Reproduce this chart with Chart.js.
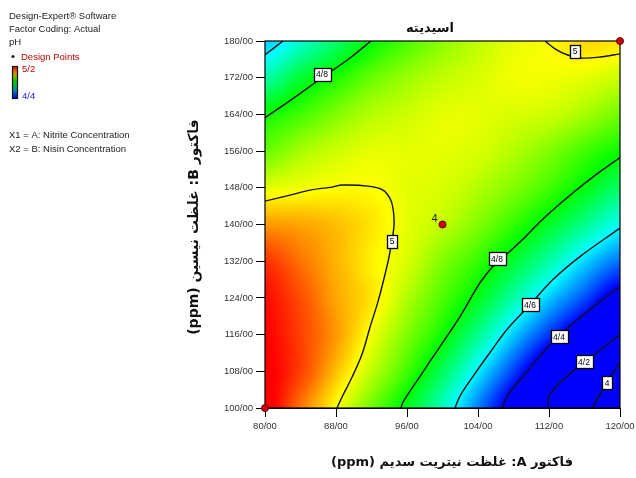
<!DOCTYPE html>
<html>
<head>
<meta charset="utf-8">
<script src="https://cdn.jsdelivr.net/npm/chart.js@4.4.0/dist/chart.umd.min.js"></script>
<style>
  html, body { margin: 0; padding: 0; background: #fff; overflow: hidden; }
  canvas { display: block; }
</style>
</head>
<body>
<canvas id="c" width="636" height="478"></canvas>
<script>
// Factor levels of the response grid: A = sodium nitrite (ppm), B = nisin (ppm)
const nitriteLevels = [80, 84, 88, 92, 96, 100, 104, 108, 112, 116, 120];
const nisinLevels = [100, 108, 116, 124, 132, 140, 148, 156, 164, 172, 180];

// Predicted pH, one row per nisin level, columns follow nitriteLevels
const ph100 = [5.22, 5.11, 5.00, 4.89, 4.78, 4.65, 4.50, 4.35, 4.20, 4.03, 3.87];
const ph108 = [5.21, 5.15, 5.05, 4.95, 4.85, 4.73, 4.59, 4.45, 4.30, 4.14, 3.97];
const ph116 = [5.20, 5.15, 5.08, 4.99, 4.90, 4.81, 4.69, 4.56, 4.44, 4.32, 4.20];
const ph124 = [5.19, 5.14, 5.07, 5.02, 4.94, 4.86, 4.78, 4.67, 4.56, 4.46, 4.35];
const ph132 = [5.16, 5.11, 5.06, 5.01, 4.97, 4.90, 4.84, 4.76, 4.67, 4.57, 4.49];
const ph140 = [5.08, 5.07, 5.05, 5.02, 4.98, 4.95, 4.90, 4.84, 4.77, 4.69, 4.61];
const ph148 = [4.98, 4.99, 5.00, 5.00, 4.98, 4.97, 4.94, 4.90, 4.85, 4.79, 4.72];
const ph156 = [4.88, 4.93, 4.96, 4.98, 4.98, 4.98, 4.97, 4.94, 4.90, 4.85, 4.81];
const ph164 = [4.81, 4.85, 4.90, 4.94, 4.96, 4.98, 4.98, 4.97, 4.96, 4.93, 4.89];
const ph172 = [4.67, 4.76, 4.82, 4.88, 4.92, 4.95, 4.97, 4.99, 4.99, 4.98, 4.96];
const ph180 = [4.56, 4.64, 4.72, 4.80, 4.86, 4.91, 4.95, 4.98, 5.00, 5.03, 5.02];
const phRows = [ph100, ph108, ph116, ph124, ph132, ph140, ph148, ph156, ph164, ph172, ph180];

// Colour scale range shown in the legend
const phScaleMin = 4.4;
const phScaleMax = 5.2;

// Contour lines: level and path as [A, B] pairs
const contourLevels = [4.6, 4.8, 5, 5, 4.8, 4.6, 4.4, 4.2, 4];
const contour46a = [[80, 177.0], [82.03, 180]];
const contour48a = [[80, 163.3], [82.82, 167.0], [86.42, 172.0], [89.58, 176.3], [91.94, 180]];
const contour50a = [[80, 145.1], [82.82, 146.4], [85.07, 147.5], [87.32, 148.1], [88.79, 148.6], [91.83, 148.3],
  [93.30, 147.5], [94.08, 145.7], [94.42, 143.6], [94.54, 139.9], [94.08, 134.0], [93.52, 129.1], [92.73, 123.2],
  [91.83, 117.6], [90.93, 111.7], [89.80, 106.7], [88.68, 102.4], [88.11, 100]];
const contour50b = [[111.55, 180], [112.68, 178.3], [114.03, 177.0], [115.49, 176.3], [117.75, 176.5], [120, 177.2]];
const contour48b = [[120, 154.6], [117.18, 150.7], [114.14, 146.0], [111.21, 141.0], [108.96, 136.6], [107.38, 133.8],
  [106.14, 131.9], [104.23, 127.3], [101.97, 119.9], [99.72, 113.4], [97.47, 106.9], [95.55, 101.3], [95.32, 100]];
const contour46b = [[120, 139.2], [115.49, 133.0], [112.45, 128.0], [109.86, 122.5], [107.27, 117.1], [105.35, 112.1],
  [103.44, 106.9], [101.97, 102.6], [101.41, 100]];
const contour44 = [[120, 126.5], [116.62, 121.5], [113.02, 115.6], [110.99, 111.3], [109.07, 106.9], [107.27, 102.6], [106.71, 100]];
const contour42 = [[120, 116.0], [117.41, 112.1], [116.06, 110.2], [114.03, 106.9], [112.11, 103.0], [111.89, 100]];
const contour40 = [[120, 110.0], [118.54, 105.6], [116.85, 100]];
const contourPaths = [contour46a, contour48a, contour50a, contour50b, contour48b, contour46b, contour44, contour42, contour40];
// Where each contour carries its value tag (null = no tag)
const contourTagAt = [null, [86.42, 172.8], [94.31, 136.4], [114.93, 177.8], [106.14, 132.5], [109.86, 122.5],
  [113.13, 115.6], [115.94, 110.2], [118.54, 105.6]];

// Design points and their replicate counts
const designA = [80, 100, 120];
const designB = [100, 140, 180];
const designReps = [1, 4, 1];

const fmtPersian = v => String(v).replace('.', '/');
const fmtTick = v => Number(v).toFixed(2).replace('.', '/');

// Catmull-Rom sampling of the gridded surface
function cr(p0, p1, p2, p3, t) {
  return p1 + 0.5 * t * (p2 - p0 + t * (2 * p0 - 5 * p1 + 4 * p2 - p3 + t * (3 * (p1 - p2) + p3 - p0)));
}
function surfaceAt(a, b) {
  const nx = nitriteLevels.length, ny = nisinLevels.length;
  const fx = (a - nitriteLevels[0]) / (nitriteLevels[1] - nitriteLevels[0]);
  const fy = (b - nisinLevels[0]) / (nisinLevels[1] - nisinLevels[0]);
  const i = Math.min(Math.max(Math.floor(fx), 0), nx - 2);
  const j = Math.min(Math.max(Math.floor(fy), 0), ny - 2);
  const tx = fx - i, ty = fy - j;
  const g = (r, c) => phRows[Math.min(Math.max(r, 0), ny - 1)][Math.min(Math.max(c, 0), nx - 1)];
  const col = [];
  for (let r = j - 1; r <= j + 2; r++) col.push(cr(g(r, i - 1), g(r, i), g(r, i + 1), g(r, i + 2), tx));
  return cr(col[0], col[1], col[2], col[3], ty);
}

// blue -> cyan -> green -> yellow -> red over the legend range
const rampColors = [[0, 0, 255], [0, 255, 255], [0, 255, 0], [255, 255, 0], [255, 0, 0]];
function rampColor(v) {
  let t = (v - phScaleMin) / (phScaleMax - phScaleMin);
  t = Math.min(Math.max(t, 0), 1) * (rampColors.length - 1);
  const k = Math.min(Math.floor(t), rampColors.length - 2);
  const f = t - k, c0 = rampColors[k], c1 = rampColors[k + 1];
  return [c0[0] + (c1[0] - c0[0]) * f, c0[1] + (c1[1] - c0[1]) * f, c0[2] + (c1[2] - c0[2]) * f];
}

const surfacePlugin = {
  id: 'surface',
  beforeDatasetsDraw(chart) {
    const { ctx, chartArea: ca, scales: { x, y } } = chart;
    const w = Math.round(ca.right - ca.left), h = Math.round(ca.bottom - ca.top);
    const off = document.createElement('canvas');
    off.width = w; off.height = h;
    const octx = off.getContext('2d');
    const img = octx.createImageData(w, h);
    for (let j = 0; j < h; j++) {
      const b = y.getValueForPixel(ca.top + j + 0.5);
      for (let i = 0; i < w; i++) {
        const a = x.getValueForPixel(ca.left + i + 0.5);
        const c = rampColor(surfaceAt(a, b));
        const p = (j * w + i) * 4;
        img.data[p] = c[0]; img.data[p + 1] = c[1]; img.data[p + 2] = c[2]; img.data[p + 3] = 255;
      }
    }
    octx.putImageData(img, 0, 0);
    ctx.drawImage(off, ca.left, ca.top);
  },
  afterDatasetsDraw(chart) {
    const { ctx, chartArea: ca, scales: { x, y } } = chart;
    // contour value tags
    ctx.save();
    ctx.font = '8.5px "Liberation Sans", Arial, sans-serif';
    ctx.textAlign = 'center';
    ctx.textBaseline = 'middle';
    contourTagAt.forEach((pos, k) => {
      if (!pos) return;
      const px = x.getPixelForValue(pos[0]), py = y.getPixelForValue(pos[1]);
      const txt = fmtPersian(contourLevels[k]);
      const tw = Math.max(ctx.measureText(txt).width + 5, 9);
      const th = 13;
      ctx.fillStyle = '#fff';
      ctx.fillRect(Math.round(px - tw / 2) + 0.5, Math.round(py - th / 2) + 0.5, Math.round(tw), th);
      ctx.strokeStyle = '#000';
      ctx.lineWidth = 1.3;
      ctx.strokeRect(Math.round(px - tw / 2) + 0.5, Math.round(py - th / 2) + 0.5, Math.round(tw), th);
      ctx.fillStyle = '#000';
      ctx.fillText(txt, px, py + 1);
    });
    // frame
    ctx.strokeStyle = '#000';
    ctx.lineWidth = 1.2;
    ctx.strokeRect(ca.left, ca.top, ca.right - ca.left, ca.bottom - ca.top);
    ctx.restore();
    // design points drawn on top, allowed past the frame
    ctx.save();
    designA.forEach((a, k) => {
      const px = x.getPixelForValue(a), py = y.getPixelForValue(designB[k]);
      ctx.beginPath();
      ctx.arc(px, py, 3.6, 0, Math.PI * 2);
      ctx.fillStyle = '#c8000a';
      ctx.fill();
      ctx.lineWidth = 0.8;
      ctx.strokeStyle = '#5a0000';
      ctx.stroke();
      if (designReps[k] > 1) {
        ctx.fillStyle = '#222';
        ctx.font = '11px "Liberation Sans", Arial, sans-serif';
        ctx.textAlign = 'center';
        ctx.textBaseline = 'middle';
        ctx.fillText(String(designReps[k]), px - 8, py - 6);
      }
    });
    ctx.restore();
  },
  afterDraw(chart) {
    const { ctx } = chart;
    ctx.save();
    // title and axis titles
    ctx.fillStyle = '#111';
    ctx.direction = 'rtl';
    ctx.textAlign = 'center';
    ctx.textBaseline = 'middle';
    ctx.font = 'bold 13px "DejaVu Sans", sans-serif';
    ctx.fillText('اسیدیته', 430, 29);
    ctx.fillText('فاکتور A: غلظت نیتریت سدیم (ppm)', 452, 463);
    ctx.font = 'bold 14px "DejaVu Sans", sans-serif';
    ctx.translate(194, 227);
    ctx.rotate(-Math.PI / 2);
    ctx.fillText('فاکتور B: غلظت نیسین (ppm)', 0, 0);
    ctx.restore();

    // side panel
    ctx.save();
    ctx.direction = 'ltr';
    ctx.textAlign = 'left';
    ctx.textBaseline = 'alphabetic';
    ctx.font = '9.5px "Liberation Sans", Arial, sans-serif';
    ctx.fillStyle = '#222';
    ctx.fillText('Design-Expert\u00AE Software', 9, 19);
    ctx.fillText('Factor Coding: Actual', 9, 32);
    ctx.fillText('pH', 9, 45);
    ctx.beginPath();
    ctx.arc(13, 56.5, 1.6, 0, Math.PI * 2);
    ctx.fillStyle = '#222';
    ctx.fill();
    ctx.fillStyle = '#c00000';
    ctx.fillText('Design Points', 21, 59.5);
    const grad = ctx.createLinearGradient(0, 66, 0, 98);
    grad.addColorStop(0, 'rgb(230,0,0)');
    grad.addColorStop(0.25, 'rgb(200,160,0)');
    grad.addColorStop(0.5, 'rgb(0,200,0)');
    grad.addColorStop(0.75, 'rgb(0,150,150)');
    grad.addColorStop(1, 'rgb(0,0,230)');
    ctx.fillStyle = grad;
    ctx.fillRect(12, 66, 5, 32);
    ctx.strokeStyle = '#111';
    ctx.lineWidth = 1.2;
    ctx.strokeRect(12.5, 66.5, 5, 32);
    ctx.fillStyle = '#c00000';
    ctx.fillText(fmtPersian(phScaleMax), 22, 72);
    ctx.fillStyle = '#2020e0';
    ctx.fillText(fmtPersian(phScaleMin), 22, 99);
    ctx.fillStyle = '#222';
    ctx.fillText('X1 = A: Nitrite Concentration', 9, 138);
    ctx.fillText('X2 = B: Nisin Concentration', 9, 152);
    ctx.restore();
  }
};

const contourDatasets = contourPaths.map((path, k) => ({
  type: 'scatter',
  label: 'pH ' + contourLevels[k],
  data: path.map(p => ({ x: p[0], y: p[1] })),
  showLine: true,
  tension: 0.35,
  borderColor: '#111',
  borderWidth: 1.4,
  pointRadius: 0,
  fill: false
}));

const tickFont = { family: 'Liberation Sans', size: 9.5 };

new Chart(document.getElementById('c'), {
  type: 'scatter',
  data: { datasets: contourDatasets },
  options: {
    responsive: false,
    animation: false,
    devicePixelRatio: 1,
    layout: { padding: { top: 41, right: 16, bottom: 0, left: 0 } },
    plugins: { legend: { display: false }, tooltip: { enabled: false } },
    scales: {
      x: {
        type: 'linear', position: 'bottom', min: 80, max: 120,
        afterFit(s) { s.height = 70; s.paddingLeft = 0; s.paddingRight = 0; },
        ticks: { stepSize: 8, autoSkip: false, maxRotation: 0, padding: 4, color: '#333', font: tickFont, callback: v => fmtTick(v) },
        grid: { drawOnChartArea: false, drawTicks: true, tickLength: 9, color: '#000', lineWidth: 1 },
        border: { display: true, color: '#000', width: 1 }
      },
      y: {
        type: 'linear', position: 'left', min: 100, max: 180,
        afterFit(s) { s.width = 265; s.paddingTop = 0; s.paddingBottom = 0; },
        ticks: { stepSize: 8, autoSkip: false, padding: 3, color: '#333', font: tickFont, callback: v => fmtTick(v) },
        grid: { drawOnChartArea: false, drawTicks: true, tickLength: 9, color: '#000', lineWidth: 1 },
        border: { display: true, color: '#000', width: 1 }
      }
    }
  },
  plugins: [surfacePlugin]
});
</script>
</body>
</html>
